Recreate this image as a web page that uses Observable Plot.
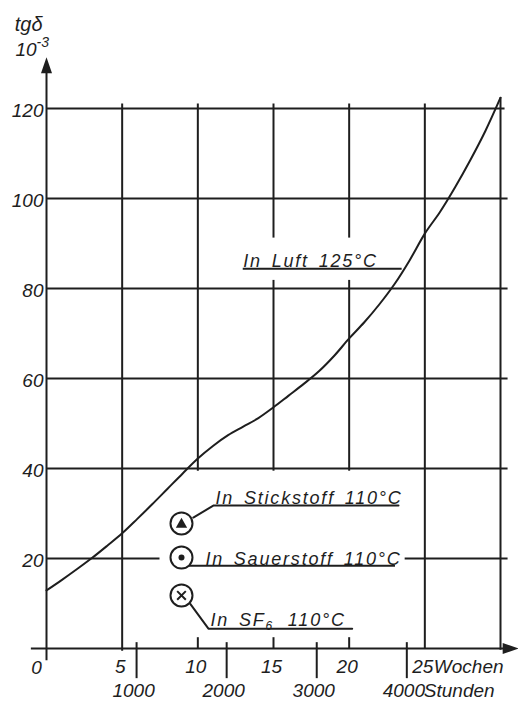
<!DOCTYPE html>
<html><head><meta charset="utf-8">
<script src="https://cdn.jsdelivr.net/npm/d3@7"></script>
<script src="https://cdn.jsdelivr.net/npm/@observablehq/plot@0.6"></script>
<style>body{margin:0;background:#fff}</style>
</head><body><div id="chart"></div>
<script>
// ---- data ----
const weeks = [0,1,2,3,4,5,6,7,8,9,10,11,12,13,14,15,16,17,18,19,20,21,22,23,24,25,26,27,28,29,30];
const tanDelta = [12.9,15.2,17.6,20.1,22.8,25.6,28.8,32.1,35.5,38.9,42.2,45.0,47.4,49.3,51.2,53.6,56.2,58.8,61.6,65.0,68.9,72.5,76.5,81.0,86.3,92.2,97.0,102.5,108.5,115.0,122.4];
const yTicks = [20,40,60,80,100,120];
const weekTicks = [5,10,15,20,25];
const hourTicks = [1000,2000,3000,4000];
const HOURS_PER_WEEK = 168;
const curveLabel = "In Luft 125°C";
const gasLabels = ["In Stickstoff 110°C","In Sauerstoff 110°C"];
const sf6Parts = ["In SF","6"," 110°C"];
const yTitle = ["tgδ","10","-3"];
const xUnits = ["Wochen","Stunden"];

// ---- drawing ----
const INK = "#1e1e1e";
const FONT = "'Liberation Sans', Arial, sans-serif";
const txt = {fill: INK, fontFamily: FONT, fontStyle: "italic"};
const line = {stroke: INK, strokeWidth: 2};
const arrow = {draw(ctx){ctx.moveTo(0,0);ctx.lineTo(-5.5,16);ctx.lineTo(5.5,16);ctx.closePath();}};

const curve = weeks.map((w,i)=>({w, v: tanDelta[i]}));
const hw = hourTicks.map(h=>({h, w: h/HOURS_PER_WEEK}));

const vGrid = [
  {x:5,y1:-0.6,y2:121},{x:10,y1:39.4,y2:121},
  {x:15,y1:39.4,y2:81.8},{x:15,y1:91.2,y2:121},
  {x:20,y1:39.4,y2:81.8},{x:20,y1:91.2,y2:121},
  {x:25,y1:0,y2:121},{x:30,y1:-0.4,y2:122.4}
];
const hGrid = [
  {y:20,x1:0,x2:7.5},{y:20,x1:23.7,x2:30.5},
  {y:40,x1:0,x2:30.5},{y:60,x1:0,x2:30.5},{y:80,x1:0,x2:30.5},
  {y:100,x1:0,x2:30.5},{y:120,x1:0,x2:30.3}
];

const chart = Plot.plot({
  width: 518, height: 706,
  marginLeft: 46, marginRight: 18, marginTop: 108, marginBottom: 58,
  x: {domain: [0,30], axis: null},
  y: {domain: [0,120], axis: null},
  style: {background: "#fff", overflow: "visible"},
  marks: [
    Plot.ruleX(vGrid, {x:"x", y1:"y1", y2:"y2", ...line}),
    Plot.ruleY(hGrid, {y:"y", x1:"x1", x2:"x2", ...line}),
    Plot.ruleX([0], {y1:-2.7, y2:128, ...line}),
    Plot.ruleY([0], {x1:-1, x2:30.4, ...line}),
    Plot.dot([0], {x:0, y:131.4, symbol: arrow, fill: INK, stroke: "none"}),
    Plot.dot([0], {x:31.2, y:0, symbol: arrow, rotate: 90, fill: INK, stroke: "none"}),
    Plot.ruleX([10,15,20], {x:d=>d, y1:0, y2:2.4, ...line}),
    Plot.ruleX(hw, {x:"w", y1:1.3, y2:-6.7, ...line}),
    Plot.line(curve, {x:"w", y:"v", curve:"catmull-rom", ...line}),
    // tick labels
    Plot.text(yTicks, {x:0, y:d=>d, text:d=>String(d), textAnchor:"end", dx:-3, dy:2, fontSize:19, ...txt}),
    Plot.text([0], {x:0, y:0, text:d=>String(d), dx:-10, dy:19, fontSize:19, ...txt}),
    Plot.text(weekTicks, {x:d=>d, y:0, text:d=>String(d), dx:-2, dy:18, fontSize:19, ...txt}),
    Plot.text(hw, {x:"w", y:0, text:d=>String(d.h), dx:-3, dy:42, fontSize:19, ...txt}),
    Plot.text([xUnits[0]], {x:25, y:0, text:d=>d, textAnchor:"start", dx:9, dy:18, fontSize:19, ...txt}),
    Plot.text([xUnits[1]], {x:hw[3].w, y:0, text:d=>d, textAnchor:"start", dx:17, dy:42, fontSize:19, ...txt}),
    // y title
    Plot.text([yTitle[0]], {x:-2.1, y:138.6, text:d=>d, textAnchor:"start", fontSize:20, ...txt}),
    Plot.text([yTitle[1] + yTitle[2]], {x:-2.05, y:133.0, text:d=>d, textAnchor:"start", fontSize:19, ...txt}),
    // annotations
    Plot.ruleY([84.4], {x1:13.0, x2:23.5, ...line}),
    Plot.text([curveLabel], {x:13.0, y:84.4, text:d=>d, textAnchor:"start", lineAnchor:"bottom", dy:-2, fontSize:18, ...txt}),
    Plot.line([{x:9.7,y:29.1},{x:11.05,y:31.8},{x:23.26,y:31.8}], {x:"x", y:"y", ...line}),
    Plot.text([gasLabels[0]], {x:11.17, y:31.8, text:d=>d, textAnchor:"start", lineAnchor:"bottom", dy:-1, fontSize:18, ...txt}),
    Plot.ruleY([18.4], {x1:9.1, x2:23.06, ...line}),
    Plot.text([gasLabels[1]], {x:10.5, y:18.4, text:d=>d, textAnchor:"start", lineAnchor:"bottom", dy:-1, fontSize:18, ...txt}),
    Plot.line([{x:9.5,y:9.9},{x:10.7,y:4.4},{x:20.2,y:4.4}], {x:"x", y:"y", ...line}),
    Plot.text([sf6Parts.join("")], {x:10.84, y:4.4, text:d=>d, textAnchor:"start", lineAnchor:"bottom", dy:-3, fontSize:18, ...txt}),
    // circle markers
    Plot.dot([27.8,20.2,11.8], {x:8.92, y:d=>d, r:11, fill:"#fff", ...line}),
    Plot.dot([27.8], {x:8.92, y:d=>d, symbol:"triangle", r:4.2, fill:INK, dy:1}),
    Plot.dot([20.2], {x:8.92, y:d=>d, r:3, fill:INK}),
    Plot.dot([11.8], {x:8.92, y:d=>d, symbol:"times", r:4, stroke:INK, strokeWidth:2})
  ]
});

// typographic touches: wide lettering, sub/superscripts
const svgNS = "http://www.w3.org/2000/svg";
const annots = [curveLabel, ...gasLabels, sf6Parts.join("")];
d3.select(chart).selectAll("text").each(function(){
  const t = this.textContent;
  if (annots.includes(t)) { this.style.letterSpacing = "1.8px"; this.style.wordSpacing = "3px"; }
  if (t === sf6Parts.join("")) {
    while (this.firstChild) this.removeChild(this.firstChild);
    this.appendChild(document.createTextNode(sf6Parts[0]));
    const s = document.createElementNS(svgNS, "tspan");
    s.setAttribute("font-size", "12"); s.setAttribute("dy", "4"); s.textContent = sf6Parts[1];
    this.appendChild(s);
    const r = document.createElementNS(svgNS, "tspan");
    r.setAttribute("dy", "-4"); r.setAttribute("dx", "4"); r.textContent = sf6Parts[2];
    this.appendChild(r);
  }
  if (t === yTitle[1] + yTitle[2]) {
    while (this.firstChild) this.removeChild(this.firstChild);
    this.appendChild(document.createTextNode(yTitle[1]));
    const s = document.createElementNS(svgNS, "tspan");
    s.setAttribute("font-size", "14"); s.setAttribute("dy", "-9"); s.textContent = yTitle[2];
    this.appendChild(s);
  }
});
document.getElementById("chart").appendChild(chart);
</script>
</body></html>
